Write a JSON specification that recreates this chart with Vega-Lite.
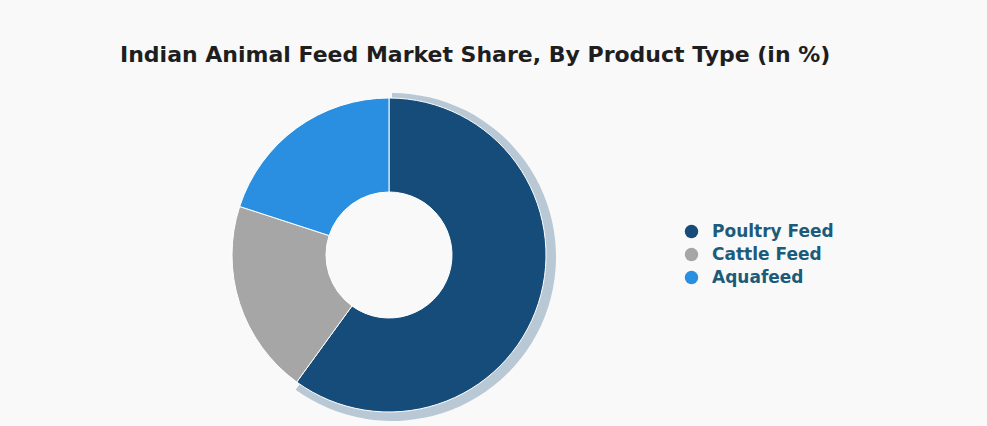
{
  "$schema": "https://vega.github.io/schema/vega-lite/v6.json",
  "width": 320,
  "height": 320,
  "autosize": "none",
  "padding": {"left": 229, "top": 95, "right": 438, "bottom": 11},
  "background": "#f9f9f9",
  "title": {
    "text": "Indian Animal Feed Market Share, By Product Type (in %)",
    "frame": "group",
    "anchor": "start",
    "dx": -109,
    "offset": 26,
    "font": "DejaVu Sans",
    "fontSize": 22,
    "fontWeight": "bold",
    "color": "#1e1e1e"
  },
  "data": {
    "values": [
      {"type": "Poultry Feed", "share": 60, "order": 1},
      {"type": "Cattle Feed", "share": 20, "order": 2},
      {"type": "Aquafeed", "share": 20, "order": 3}
    ]
  },
  "encoding": {
    "theta": {"field": "share", "type": "quantitative", "stack": true},
    "order": {"field": "order", "type": "quantitative"}
  },
  "layer": [
    {
      "transform": [{"filter": "datum.type === 'Poultry Feed'"}],
      "mark": {"type": "arc", "radius": 164, "radius2": 100, "xOffset": 3, "yOffset": 2, "color": "#b9c8d5"},
      "encoding": {}
    },
    {
      "mark": {"type": "arc", "radius": 157, "radius2": 63, "stroke": "#ffffff", "strokeWidth": 1},
      "encoding": {
        "color": {
          "field": "type",
          "type": "nominal",
          "sort": ["Poultry Feed", "Cattle Feed", "Aquafeed"],
          "scale": {"domain": ["Poultry Feed", "Cattle Feed", "Aquafeed"], "range": ["#154c79", "#a6a6a6", "#2a8fe0"]},
          "legend": {
            "title": null,
            "orient": "none",
            "legendX": 454,
            "legendY": 128,
            "padding": 0,
            "symbolType": "circle",
            "symbolSize": 180,
            "symbolStrokeWidth": 0,
            "labelFont": "DejaVu Sans",
            "labelFontSize": 17,
            "labelFontWeight": "bold",
            "labelColor": "#1d5b7a",
            "labelOffset": 12,
            "rowPadding": 5
          }
        }
      }
    }
  ]
}
